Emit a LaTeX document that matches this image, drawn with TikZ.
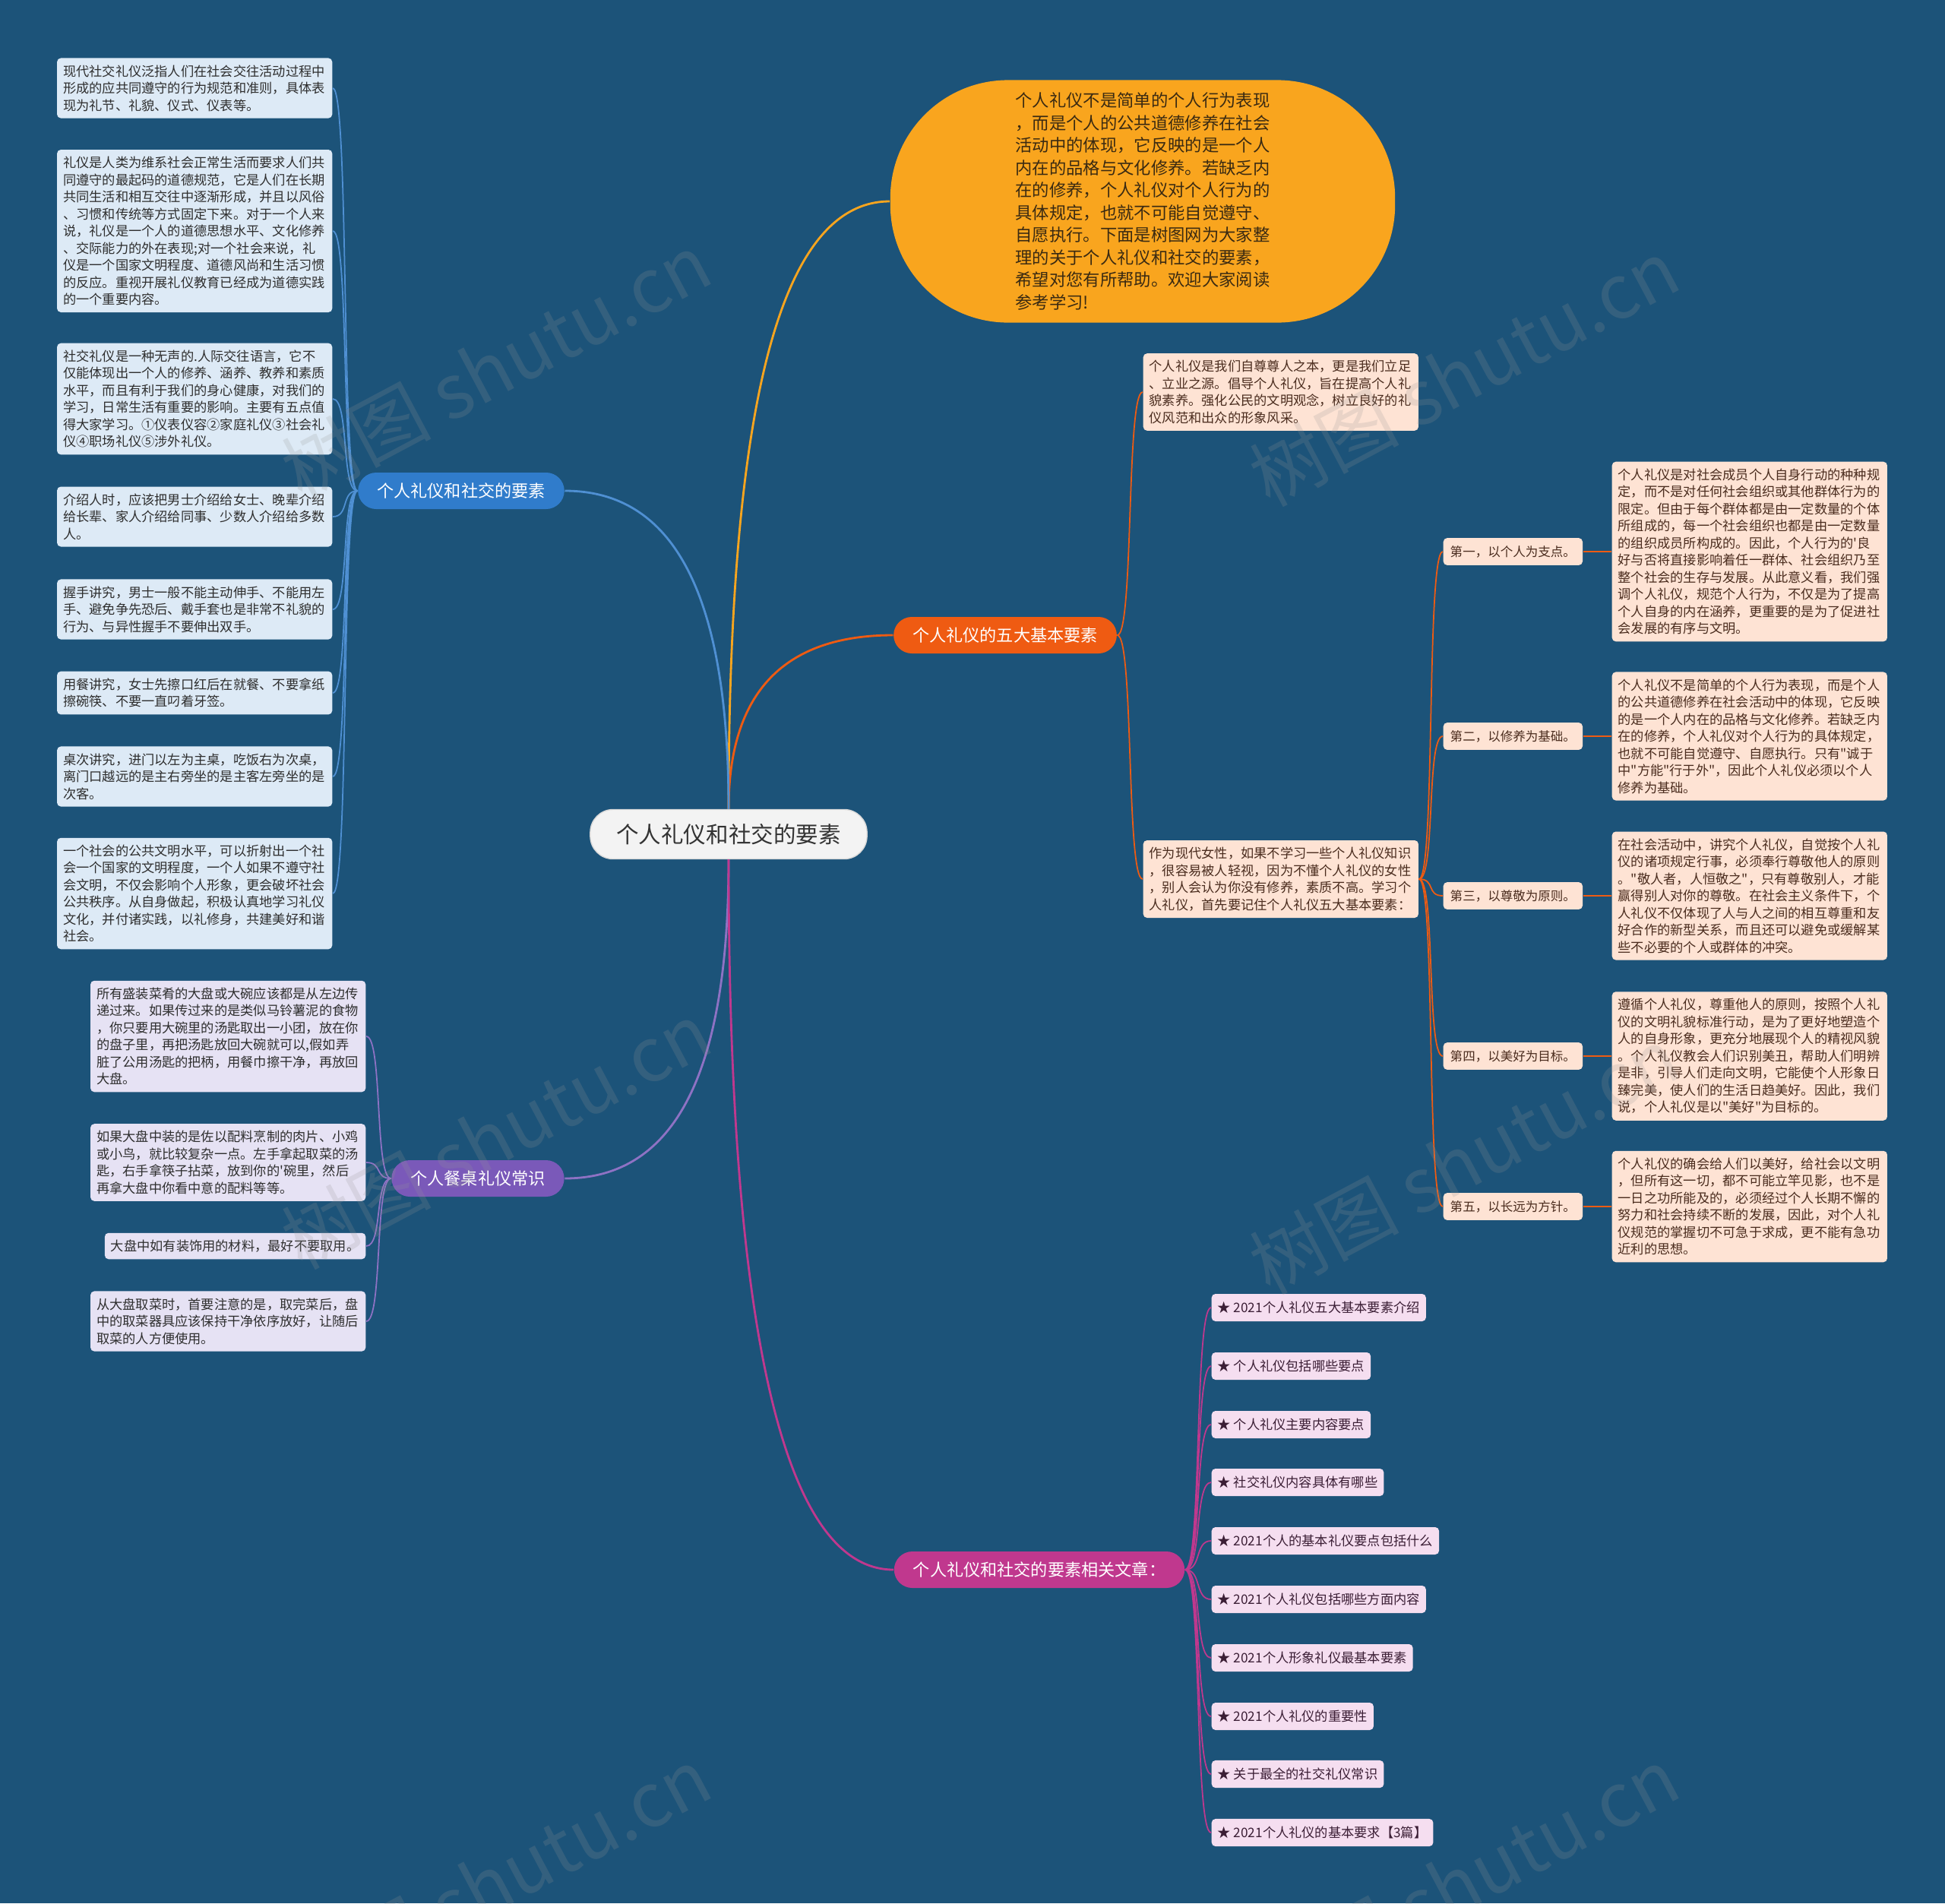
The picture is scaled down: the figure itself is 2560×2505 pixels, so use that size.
\documentclass[tikz,border=0pt]{standalone}
\usepackage{fontspec}
\setmainfont{Noto Sans CJK SC}[Ligatures=TeXOff]
\usepackage{tikz}
\definecolor{bgblue}{HTML}{1C5379}
\definecolor{rootfill}{HTML}{F3F3F3}
\definecolor{introfill}{HTML}{F9A51E}
\definecolor{introtext}{HTML}{3A2A12}
\definecolor{fivefill}{HTML}{EF5B12}
\definecolor{socfill}{HTML}{307CCB}
\definecolor{tablefill}{HTML}{7A59B9}
\definecolor{artfill}{HTML}{C0388E}
\definecolor{socbox}{HTML}{DDEAF6}
\definecolor{tablebox}{HTML}{E6E2F4}
\definecolor{fivebox}{HTML}{FEE3D4}
\definecolor{artbox}{HTML}{F5DEF0}
\definecolor{boxtext}{HTML}{2E2E2E}
\definecolor{fivetext}{HTML}{4A2C1E}
\definecolor{arttext}{HTML}{3B1E35}
\definecolor{wmgray}{RGB}{150,150,150}

\begin{document}
\begin{tikzpicture}[x=0.01cm, y=-0.01cm,
  root/.style={draw=black!15, fill=rootfill, text=black!80, rounded corners=0.3cm,
               minimum width=3.64cm, minimum height=0.65cm, font=\fontsize{8.4}{10}\selectfont},
  intro/.style={fill=introfill, text=introtext, rounded corners=1.55cm, minimum width=6.64cm,
                minimum height=3.19cm, align=left, font=\fontsize{6.35}{8.4}\selectfont},
  branch/.style={rounded corners=0.24cm, minimum height=0.48cm, inner xsep=0.25cm, text=white,
                 font=\fontsize{6.3}{7.5}\selectfont},
  leaf/.style={rounded corners=0.05cm, inner xsep=0.08cm, inner ysep=0.09cm, align=left,
               font=\fontsize{4.9}{6.4}\selectfont},
  card/.style={leaf, text width=3.46cm},
  soccard/.style={card, fill=socbox, text=boxtext, anchor=east},
  tabcard/.style={card, fill=tablebox, text=boxtext, anchor=east},
  fivecard/.style={card, fill=fivebox, text=fivetext, anchor=west},
  tag/.style={leaf, inner xsep=0.09cm, inner ysep=0.1cm, fill=fivebox, text=fivetext, anchor=west,
              font=\fontsize{4.7}{6}\selectfont},
  art/.style={leaf, inner ysep=0.1cm, fill=artbox, text=arttext, anchor=west},
  trunk/.style={line width=0.8pt},
  twig/.style={line width=0.5pt},
  wmark/.style={text=wmgray, opacity=0.2, rotate=28, font=\fontsize{28}{28}\selectfont}
]
\useasboundingbox (0,0) rectangle (2560,2505);
\fill[bgblue] (0,0) rectangle (2560,2505);

\node[root] (root) at (959,1098) {个人礼仪和社交的要素};
\node[intro] (intro) at (1504,265) {个人礼仪不是简单的个人行为表现\\，而是个人的公共道德修养在社会\\活动中的体现，它反映的是一个人\\内在的品格与文化修养。若缺乏内\\在的修养，个人礼仪对个人行为的\\具体规定，也就不可能自觉遵守、\\自愿执行。下面是树图网为大家整\\理的关于个人礼仪和社交的要素，\\希望对您有所帮助。欢迎大家阅读\\参考学习!};
\node[branch, fill=socfill] (soc) at (607,646) {个人礼仪和社交的要素};
\node[branch, fill=fivefill] (five) at (1323,836) {个人礼仪的五大基本要素};
\node[branch, fill=tablefill] (table) at (629,1551) {个人餐桌礼仪常识};
\node[branch, fill=artfill] (art) at (1368,2066) {个人礼仪和社交的要素相关文章：};

\draw[trunk, introfill] (root.north) .. controls +(0,-533) and +(-144,0) .. (intro.west);
\draw[trunk, fivefill] (root.north) .. controls +(0,-153) and +(-144,0) .. (five.west);
\draw[trunk, socfill!85!white] (root.north) .. controls +(0,-279) and +(145,0) .. (soc.east);
\draw[trunk, tablefill!85!white] (root.south) .. controls +(0,281) and +(145,0) .. (table.east);
\draw[trunk, artfill] (root.south) .. controls +(0,624) and +(-144,0) .. (art.west);

\node[soccard] (s1) at (438,116) {现代社交礼仪泛指人们在社会交往活动过程中\\形成的应共同遵守的行为规范和准则，具体表\\现为礼节、礼貌、仪式、仪表等。};
\node[soccard] (s2) at (438,304) {礼仪是人类为维系社会正常生活而要求人们共\\同遵守的最起码的道德规范，它是人们在长期\\共同生活和相互交往中逐渐形成，并且以风俗\\、习惯和传统等方式固定下来。对于一个人来\\说，礼仪是一个人的道德思想水平、文化修养\\、交际能力的外在表现;对一个社会来说，礼\\仪是一个国家文明程度、道德风尚和生活习惯\\的反应。重视开展礼仪教育已经成为道德实践\\的一个重要内容。};
\node[soccard] (s3) at (438,525) {社交礼仪是一种无声的.人际交往语言，它不\\仅能体现出一个人的修养、涵养、教养和素质\\水平，而且有利于我们的身心健康，对我们的\\学习，日常生活有重要的影响。主要有五点值\\得大家学习。①仪表仪容②家庭礼仪③社会礼\\仪④职场礼仪⑤涉外礼仪。};
\node[soccard] (s4) at (438,680) {介绍人时，应该把男士介绍给女士、晚辈介绍\\给长辈、家人介绍给同事、少数人介绍给多数\\人。};
\node[soccard] (s5) at (438,802) {握手讲究，男士一般不能主动伸手、不能用左\\手、避免争先恐后、戴手套也是非常不礼貌的\\行为、与异性握手不要伸出双手。};
\node[soccard] (s6) at (438,912) {用餐讲究，女士先擦口红后在就餐、不要拿纸\\擦碗筷、不要一直叼着牙签。};
\node[soccard] (s7) at (438,1022) {桌次讲究，进门以左为主桌，吃饭右为次桌，\\离门口越远的是主右旁坐的是主客左旁坐的是\\次客。};
\node[soccard] (s8) at (438,1176) {一个社会的公共文明水平，可以折射出一个社\\会一个国家的文明程度，一个人如果不遵守社\\会文明，不仅会影响个人形象，更会破坏社会\\公共秩序。从自身做起，积极认真地学习礼仪\\文化，并付诸实践，以礼修身，共建美好和谐\\社会。};
\draw[twig, socfill!85!white] (soc.west) .. controls +(-22,0) and +(22,0) .. (s1.east);
\draw[twig, socfill!85!white] (soc.west) .. controls +(-22,0) and +(22,0) .. (s2.east);
\draw[twig, socfill!85!white] (soc.west) .. controls +(-22,0) and +(22,0) .. (s3.east);
\draw[twig, socfill!85!white] (soc.west) .. controls +(-22,0) and +(22,0) .. (s4.east);
\draw[twig, socfill!85!white] (soc.west) .. controls +(-22,0) and +(22,0) .. (s5.east);
\draw[twig, socfill!85!white] (soc.west) .. controls +(-22,0) and +(22,0) .. (s6.east);
\draw[twig, socfill!85!white] (soc.west) .. controls +(-22,0) and +(22,0) .. (s7.east);
\draw[twig, socfill!85!white] (soc.west) .. controls +(-22,0) and +(22,0) .. (s8.east);

\node[tabcard] (t1) at (482,1364) {所有盛装菜肴的大盘或大碗应该都是从左边传\\递过来。如果传过来的是类似马铃薯泥的食物\\，你只要用大碗里的汤匙取出一小团，放在你\\的盘子里，再把汤匙放回大碗就可以,假如弄\\脏了公用汤匙的把柄，用餐巾擦干净，再放回\\大盘。};
\node[tabcard] (t2) at (482,1530) {如果大盘中装的是佐以配料烹制的肉片、小鸡\\或小鸟，就比较复杂一点。左手拿起取菜的汤\\匙，右手拿筷子拈菜，放到你的'碗里，然后\\再拿大盘中你看中意的配料等等。};
\node[leaf, fill=tablebox, text=boxtext, anchor=east] (t3) at (482,1640) {大盘中如有装饰用的材料，最好不要取用。};
\node[tabcard] (t4) at (482,1739) {从大盘取菜时，首要注意的是，取完菜后，盘\\中的取菜器具应该保持干净依序放好，让随后\\取菜的人方便使用。};
\draw[twig, tablefill!85!white] (table.west) .. controls +(-22,0) and +(22,0) .. (t1.east);
\draw[twig, tablefill!85!white] (table.west) .. controls +(-22,0) and +(22,0) .. (t2.east);
\draw[twig, tablefill!85!white] (table.west) .. controls +(-22,0) and +(22,0) .. (t3.east);
\draw[twig, tablefill!85!white] (table.west) .. controls +(-22,0) and +(22,0) .. (t4.east);

\node[fivecard] (r1) at (1504,516) {个人礼仪是我们自尊尊人之本，更是我们立足\\、立业之源。倡导个人礼仪，旨在提高个人礼\\貌素养。强化公民的文明观念，树立良好的礼\\仪风范和出众的形象风采。};
\node[fivecard] (r2) at (1504,1157) {作为现代女性，如果不学习一些个人礼仪知识\\，很容易被人轻视，因为不懂个人礼仪的女性\\，别人会认为你没有修养，素质不高。学习个\\人礼仪，首先要记住个人礼仪五大基本要素：};
\draw[twig, fivefill] (five.east) .. controls +(22,0) and +(-22,0) .. (r1.west);
\draw[twig, fivefill] (five.east) .. controls +(22,0) and +(-22,0) .. (r2.west);

\node[tag] (k1) at (1899,726) {第一，以个人为支点。};
\node[tag] (k2) at (1899,969) {第二，以修养为基础。};
\node[tag] (k3) at (1899,1179) {第三，以尊敬为原则。};
\node[tag] (k4) at (1899,1390) {第四，以美好为目标。};
\node[tag] (k5) at (1899,1588) {第五，以长远为方针。};
\draw[twig, fivefill] (r2.east) .. controls +(22,0) and +(-22,0) .. (k1.west);
\draw[twig, fivefill] (r2.east) .. controls +(22,0) and +(-22,0) .. (k2.west);
\draw[twig, fivefill] (r2.east) .. controls +(22,0) and +(-22,0) .. (k3.west);
\draw[twig, fivefill] (r2.east) .. controls +(22,0) and +(-22,0) .. (k4.west);
\draw[twig, fivefill] (r2.east) .. controls +(22,0) and +(-22,0) .. (k5.west);

\node[fivecard] (f1) at (2121,726) {个人礼仪是对社会成员个人自身行动的种种规\\定，而不是对任何社会组织或其他群体行为的\\限定。但由于每个群体都是由一定数量的个体\\所组成的，每一个社会组织也都是由一定数量\\的组织成员所构成的。因此，个人行为的'良\\好与否将直接影响着任一群体、社会组织乃至\\整个社会的生存与发展。从此意义看，我们强\\调个人礼仪，规范个人行为，不仅是为了提高\\个人自身的内在涵养，更重要的是为了促进社\\会发展的有序与文明。};
\node[fivecard] (f2) at (2121,969) {个人礼仪不是简单的个人行为表现，而是个人\\的公共道德修养在社会活动中的体现，它反映\\的是一个人内在的品格与文化修养。若缺乏内\\在的修养，个人礼仪对个人行为的具体规定，\\也就不可能自觉遵守、自愿执行。只有"诚于\\中"方能"行于外"，因此个人礼仪必须以个人\\修养为基础。};
\node[fivecard] (f3) at (2121,1179) {在社会活动中，讲究个人礼仪，自觉按个人礼\\仪的诸项规定行事，必须奉行尊敬他人的原则\\。"敬人者，人恒敬之"，只有尊敬别人，才能\\赢得别人对你的尊敬。在社会主义条件下，个\\人礼仪不仅体现了人与人之间的相互尊重和友\\好合作的新型关系，而且还可以避免或缓解某\\些不必要的个人或群体的冲突。};
\node[fivecard] (f4) at (2121,1390) {遵循个人礼仪，尊重他人的原则，按照个人礼\\仪的文明礼貌标准行动，是为了更好地塑造个\\人的自身形象，更充分地展现个人的精视风貌\\。个人礼仪教会人们识别美丑，帮助人们明辨\\是非，引导人们走向文明，它能使个人形象日\\臻完美，使人们的生活日趋美好。因此，我们\\说，个人礼仪是以"美好"为目标的。};
\node[fivecard] (f5) at (2121,1588) {个人礼仪的确会给人们以美好，给社会以文明\\，但所有这一切，都不可能立竿见影，也不是\\一日之功所能及的，必须经过个人长期不懈的\\努力和社会持续不断的发展，因此，对个人礼\\仪规范的掌握切不可急于求成，更不能有急功\\近利的思想。};
\draw[twig, fivefill] (k1) -- (f1);
\draw[twig, fivefill] (k2) -- (f2);
\draw[twig, fivefill] (k3) -- (f3);
\draw[twig, fivefill] (k4) -- (f4);
\draw[twig, fivefill] (k5) -- (f5);

\node[art] (a1) at (1594,1721) {★ 2021个人礼仪五大基本要素介绍};
\node[art] (a2) at (1594,1798) {★ 个人礼仪包括哪些要点};
\node[art] (a3) at (1594,1875) {★ 个人礼仪主要内容要点};
\node[art] (a4) at (1594,1951) {★ 社交礼仪内容具体有哪些};
\node[art] (a5) at (1594,2028) {★ 2021个人的基本礼仪要点包括什么};
\node[art] (a6) at (1594,2105) {★ 2021个人礼仪包括哪些方面内容};
\node[art] (a7) at (1594,2182) {★ 2021个人形象礼仪最基本要素};
\node[art] (a8) at (1594,2259) {★ 2021个人礼仪的重要性};
\node[art] (a9) at (1594,2335) {★ 关于最全的社交礼仪常识};
\node[art] (a10) at (1594,2412) {★ 2021个人礼仪的基本要求【3篇】};
\draw[twig, artfill] (art.east) .. controls +(22,0) and +(-22,0) .. (a1.west);
\draw[twig, artfill] (art.east) .. controls +(22,0) and +(-22,0) .. (a2.west);
\draw[twig, artfill] (art.east) .. controls +(22,0) and +(-22,0) .. (a3.west);
\draw[twig, artfill] (art.east) .. controls +(22,0) and +(-22,0) .. (a4.west);
\draw[twig, artfill] (art.east) .. controls +(22,0) and +(-22,0) .. (a5.west);
\draw[twig, artfill] (art.east) .. controls +(22,0) and +(-22,0) .. (a6.west);
\draw[twig, artfill] (art.east) .. controls +(22,0) and +(-22,0) .. (a7.west);
\draw[twig, artfill] (art.east) .. controls +(22,0) and +(-22,0) .. (a8.west);
\draw[twig, artfill] (art.east) .. controls +(22,0) and +(-22,0) .. (a9.west);
\draw[twig, artfill] (art.east) .. controls +(22,0) and +(-22,0) .. (a10.west);

\node[wmark] (w1) at (653,482) {树图 shutu.cn};
\node[wmark] (w2) at (1927,490) {树图 shutu.cn};
\node[wmark] (w3) at (653,1494) {树图 shutu.cn};
\node[wmark] (w4) at (1927,1527) {树图 shutu.cn};
\node[wmark] (w5) at (653,2475) {树图 shutu.cn};
\node[wmark] (w6) at (1927,2475) {树图 shutu.cn};
\end{tikzpicture}
\end{document}
